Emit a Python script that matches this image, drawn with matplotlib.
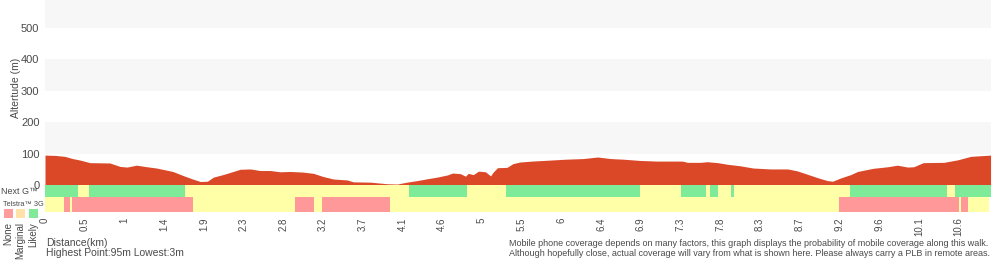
import numpy as np
import matplotlib.pyplot as plt
from matplotlib.patches import Rectangle

plt.rcParams['font.family'] = ['Liberation Sans', 'DejaVu Sans']

# elevation profile (km, m)
dist_km = [0.00, 0.12, 0.23, 0.32, 0.41, 0.52, 0.75, 0.87, 0.95, 1.06, 1.18, 1.29,
           1.48, 1.60, 1.71, 1.80, 1.88, 1.95, 2.06, 2.18, 2.26, 2.38, 2.49, 2.61,
           2.72, 2.84, 2.99, 3.11, 3.22, 3.34, 3.50, 3.57, 3.77, 3.96, 4.08, 4.19,
           4.31, 4.43, 4.54, 4.66, 4.72, 4.81, 4.87, 4.90, 4.96, 5.02, 5.10, 5.16,
           5.19, 5.24, 5.35, 5.42, 5.50, 5.64, 5.84, 6.03, 6.23, 6.40, 6.55, 6.70,
           6.89, 7.09, 7.28, 7.38, 7.44, 7.59, 7.67, 7.79, 7.90, 8.05, 8.20, 8.40,
           8.60, 8.71, 8.83, 8.95, 9.06, 9.12, 9.21, 9.33, 9.41, 9.59, 9.76, 9.87,
           9.99, 10.06, 10.17, 10.41, 10.57, 10.72, 10.95]
elev_m = [95, 94, 91, 84, 79, 71, 70, 59, 57, 63, 58, 54,
          43, 30, 19, 11, 12, 25, 33, 43, 50, 51, 46, 46,
          42, 43, 41, 37, 27, 19, 16, 10, 9, 4, 3, 9,
          14, 20, 25, 32, 38, 36, 28, 37, 33, 44, 42, 29,
          41, 55, 56, 68, 73, 76, 79, 82, 84, 89, 84, 82,
          78, 76, 76, 76, 72, 72, 74, 71, 66, 61, 54, 51,
          51, 45, 34, 23, 14, 12, 22, 33, 43, 53, 58, 63,
          57, 58, 71, 72, 80, 91, 95]

# coverage: segment boundaries (km) and status per segment
nextg_edges = [0, 0.38, 0.51, 1.62, 4.21, 4.89, 5.34, 6.89, 7.36, 7.65, 7.70,
               7.79, 7.94, 7.98, 9.32, 10.45, 10.54, 10.95]
nextg_status = ['L', 'M', 'L', 'M', 'L', 'M', 'L', 'M', 'L', 'M', 'L', 'M',
                'L', 'M', 'L', 'M', 'L']
telstra_edges = [0, 0.22, 0.29, 0.31, 1.71, 2.90, 3.12, 3.21, 3.99, 9.19,
                 10.59, 10.61, 10.69, 10.93]
telstra_status = ['M', 'N', 'M', 'N', 'M', 'N', 'M', 'N', 'M', 'N', 'M', 'N', 'M']

tick_km = [i * 0.46 for i in range(24)]
tick_labels = ['0', '0.5', '1', '1.4', '1.9', '2.3', '2.8', '3.2', '3.7', '4.1',
               '4.6', '5', '5.5', '6', '6.4', '6.9', '7.3', '7.8', '8.3', '8.7',
               '9.2', '9.6', '10.1', '10.6']
alt_ticks = [0, 100, 200, 300, 400, 500]

total_km = 10.955
ymax = 588
txt = '#4a4a4a'
status_col = {'N': '#ff9999', 'M': '#ffffa8', 'L': '#7deb98'}
legend_col = ['#ff9c9c', '#ffe2a8', '#80ea98']
legend_lab = ['None', 'Marginal', 'Likely']

fig = plt.figure(figsize=(10, 2.6), dpi=100)
W, H = 1000, 260
x0, x1 = 45, 991


def axes_px(top, bottom):
    return fig.add_axes([x0 / W, 1 - bottom / H, (x1 - x0) / W, (bottom - top) / H])


# elevation
ax = axes_px(0, 185)
for lo in range(100, 700, 200):
    ax.axhspan(lo, lo + 100, color='#f7f7f7', lw=0)
ax.fill_between(dist_km, 0, elev_m, color='#da4828', lw=0)
ax.set_xlim(0, total_km)
ax.set_ylim(0, ymax)
ax.set_yticks(alt_ticks)
ax.set_yticklabels([str(v) for v in alt_ticks])
ax.tick_params(axis='y', length=0, pad=4, labelsize=8, labelcolor=txt)
ax.set_xticks([])
for s in ax.spines.values():
    s.set_visible(False)


def coverage(ax, edges, status):
    starts = edges[:-1]
    widths = np.diff(edges)
    ax.barh(0, widths, left=starts, height=1, color=[status_col[s] for s in status], lw=0)
    ax.set_xlim(0, total_km)
    ax.set_ylim(-0.5, 0.5)
    ax.set_yticks([])
    for s in ax.spines.values():
        s.set_visible(False)


axn = axes_px(185, 197)
coverage(axn, nextg_edges, nextg_status)
axn.set_xticks([])

axt = axes_px(197, 212)
coverage(axt, telstra_edges, telstra_status)
axt.set_xticks(tick_km)
axt.set_xticklabels(tick_labels, rotation=90)
axt.tick_params(axis='x', length=0, pad=4, labelsize=7, labelcolor=txt)

# left labels / legend
fig.text(1 / W, 1 - 192 / H, 'Next G\u2122', ha='left', va='center', fontsize=6.5, color=txt)
fig.text(3 / W, 1 - 204 / H, 'Telstra\u2122 3G', ha='left', va='center', fontsize=5.3, color=txt)
for i, (c, lab) in enumerate(zip(legend_col, legend_lab)):
    lx = 3.5 + i * 12.5
    fig.patches.append(Rectangle((lx / W, 1 - 218 / H), 9 / W, 9 / H,
                                 transform=fig.transFigure, color=c, lw=0))
    fig.text((lx + 4.5) / W, 1 - 222 / H, lab, rotation=90, ha='center', va='top',
             fontsize=7, color=txt)

fig.text(16 / W, 1 - 88 / H, 'Altertude (m)', rotation=90, ha='center', va='center',
         fontsize=7.5, color=txt)

fig.text(46 / W, 1 - 243 / H, 'Distance(km)', ha='left', va='center', fontsize=7.5, color=txt)
fig.text(46 / W, 1 - 253 / H, 'Highest Point:95m Lowest:3m', ha='left', va='center',
         fontsize=7.5, color=txt)
fig.text(509 / W, 1 - 243 / H,
         'Mobile phone coverage depends on many factors, this graph displays the probability of mobile coverage along this walk.',
         ha='left', va='center', fontsize=6.5, color=txt)
fig.text(509 / W, 1 - 253 / H,
         'Although hopefully close, actual coverage will vary from what is shown here. Please always carry a PLB in remote areas.',
         ha='left', va='center', fontsize=6.5, color=txt)

fig.savefig('out.png', dpi=100)
